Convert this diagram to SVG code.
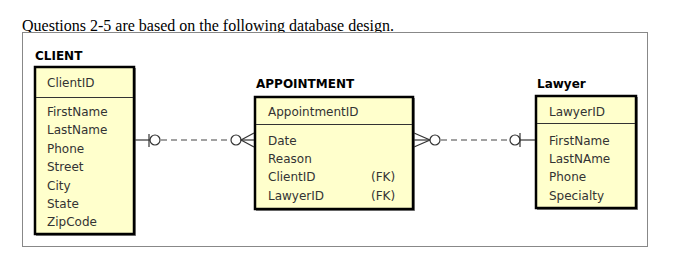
<svg xmlns="http://www.w3.org/2000/svg" width="699" height="263" viewBox="0 0 699 263">
<style>
.hd{font-family:"Liberation Serif","Times New Roman",serif;font-size:16px;fill:#000}
.tt{font-family:"DejaVu Sans",Verdana,sans-serif;font-size:12px;font-weight:bold;fill:#000}
.at{font-family:"DejaVu Sans",Verdana,sans-serif;font-size:12px;fill:#333}
.box{fill:#FFFFCC;stroke:#000;stroke-width:2.5}
.sh{fill:none;stroke:#888;stroke-width:1}
.dv{stroke:#333;stroke-width:1}
.ln{fill:none;stroke:#333;stroke-width:1.2}
.ds{fill:none;stroke:#444;stroke-width:1.2;stroke-dasharray:6,4}
.cr{fill:#fff;stroke:#333;stroke-width:1.2}
</style>
<rect width="699" height="263" fill="#fff"/>
<text class="hd" x="22" y="30.5">Questions 2-5 are based on the following database design.</text>
<rect x="22.5" y="32.5" width="625" height="214" fill="#fff" stroke="#888" stroke-width="1"/>

<g id="client">
<text class="tt" x="35" y="60">CLIENT</text>
<rect class="sh" x="36.5" y="68.5" width="99" height="167"/>
<rect class="box" x="35" y="67" width="99" height="167"/>
<line class="dv" x1="36" y1="97.5" x2="133" y2="97.5"/>
<text class="at" x="47" y="87">ClientID</text>
<text class="at" x="47" y="116">FirstName</text>
<text class="at" x="47" y="134.4">LastName</text>
<text class="at" x="47" y="152.8">Phone</text>
<text class="at" x="47" y="171.2">Street</text>
<text class="at" x="47" y="189.6">City</text>
<text class="at" x="47" y="208">State</text>
<text class="at" x="47" y="226.4">ZipCode</text>
</g>

<g id="appointment">
<text class="tt" x="256" y="88">APPOINTMENT</text>
<rect class="sh" x="256.5" y="98.5" width="158" height="112"/>
<rect class="box" x="255" y="97" width="158" height="112"/>
<line class="dv" x1="256" y1="124.5" x2="412" y2="124.5"/>
<text class="at" x="268" y="116">AppointmentID</text>
<text class="at" x="268" y="144.5">Date</text>
<text class="at" x="268" y="162.8">Reason</text>
<text class="at" x="268" y="181">ClientID</text>
<text class="at" x="268" y="199.5">LawyerID</text>
<text class="at" x="371" y="181">(FK)</text>
<text class="at" x="371" y="199.5">(FK)</text>
</g>

<g id="lawyer">
<text class="tt" x="537" y="88">Lawyer</text>
<rect class="sh" x="537.5" y="97.5" width="100" height="112"/>
<rect class="box" x="536" y="96" width="100" height="112"/>
<line class="dv" x1="537" y1="123.5" x2="635" y2="123.5"/>
<text class="at" x="549" y="116">LawyerID</text>
<text class="at" x="549" y="144.5">FirstName</text>
<text class="at" x="549" y="162.8">LastNAme</text>
<text class="at" x="549" y="181">Phone</text>
<text class="at" x="549" y="199.5">Specialty</text>
</g>

<g id="connectors">
<line class="ln" x1="135" y1="140" x2="150" y2="140"/>
<line class="ln" x1="149" y1="134" x2="149" y2="147"/>
<line class="ds" x1="161" y1="140" x2="231" y2="140"/>
<circle class="cr" cx="155" cy="140" r="5"/>
<circle class="cr" cx="236" cy="140" r="5"/>
<polyline class="ln" points="254,133 241,140 254,147"/>
<line class="ln" x1="241" y1="140" x2="254" y2="140"/>
<polyline class="ln" points="414,133 430,140 414,147"/>
<line class="ln" x1="414" y1="140" x2="430" y2="140"/>
<line class="ds" x1="441" y1="140" x2="510" y2="140"/>
<circle class="cr" cx="435" cy="140" r="5"/>
<circle class="cr" cx="515" cy="140" r="5"/>
<line class="ln" x1="520" y1="133" x2="520" y2="147"/>
<line class="ln" x1="520" y1="140" x2="535" y2="140"/>
</g>
</svg>
